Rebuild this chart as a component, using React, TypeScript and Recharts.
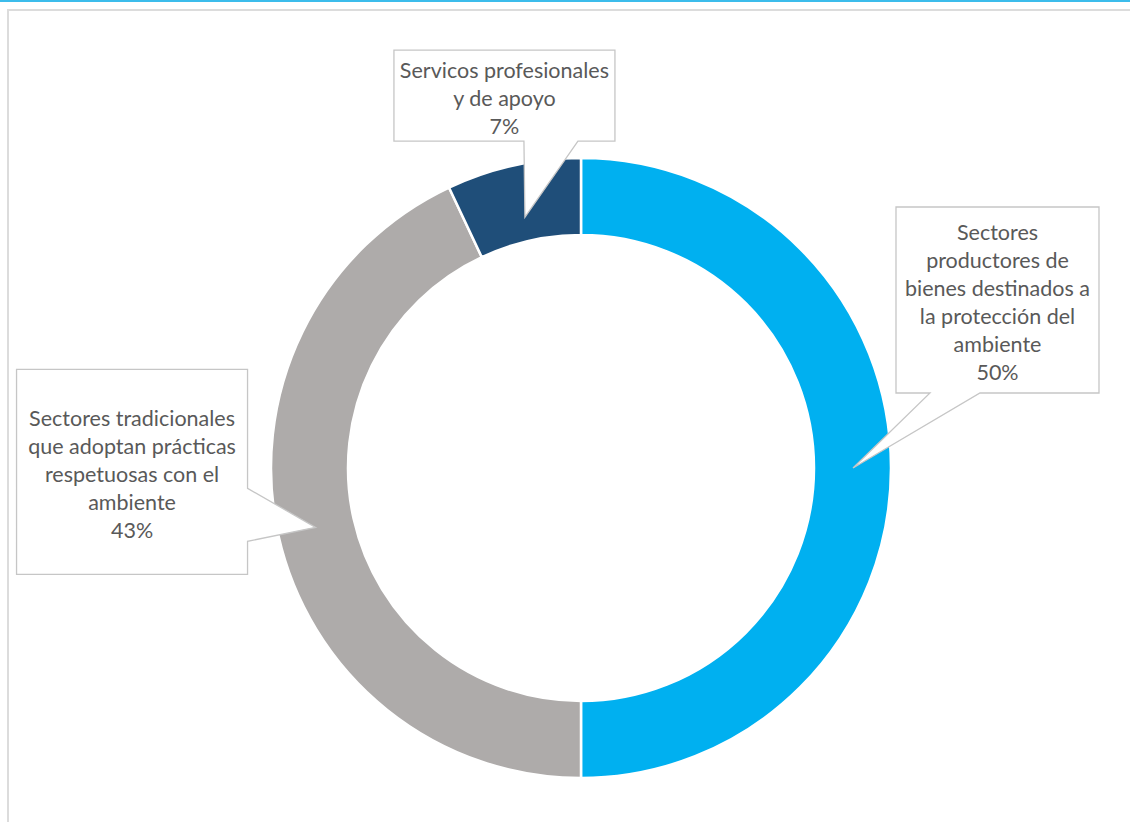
import React from "react";
import { PieChart, Pie, Cell } from "recharts";

const CATEGORIES = [
  "Sectores productores de bienes destinados a la protección del ambiente",
  "Sectores tradicionales que adoptan prácticas respetuosas con el ambiente",
  "Servicos profesionales y de apoyo",
];
const SHARES = [50, 43, 7];
const LABEL_LINES = [
  ["Sectores", "productores de", "bienes destinados a", "la protección del", "ambiente"],
  ["Sectores tradicionales", "que adoptan prácticas", "respetuosas con el", "ambiente"],
  ["Servicos profesionales", "y de apoyo"],
];
const COLORS = ["#00B0F0", "#AEABAA", "#1F4E79"];

// callout boxes, placed relative to the tail tip (which sits inside the ring)
const CALLOUTS = [
  { r: 272, dx: 43, dy: -261, w: 203, h: 186, side: "bottom", b1: 77, b2: 127 },
  { r: 272, dx: -299, dy: -158, w: 231, h: 205, side: "right", b1: -39, b2: 14 },
  { r: 257, dx: -131, dy: -167, w: 221, h: 91, side: "bottom", b1: -1, b2: 53 },
];

const data = CATEGORIES.map((name, i) => ({ name, value: SHARES[i] }));
const RAD = Math.PI / 180;

function Callout(props: any) {
  const { cx, cy, midAngle, percent, index } = props;
  const c = CALLOUTS[index];
  const tx = cx + c.r * Math.cos(midAngle * RAD);
  const ty = cy - c.r * Math.sin(midAngle * RAD);
  const x0 = tx + c.dx;
  const y0 = ty + c.dy;
  const x1 = x0 + c.w;
  const y1 = y0 + c.h;
  let d: string;
  if (c.side === "bottom") {
    d = `M${x0},${y0} H${x1} V${y1} H${tx + c.b2} L${tx},${ty} L${tx + c.b1},${y1} H${x0} Z`;
  } else {
    d = `M${x0},${y0} H${x1} V${ty + c.b1} L${tx},${ty} L${x1},${ty + c.b2} V${y1} H${x0} Z`;
  }
  const lines = [...LABEL_LINES[index], `${Math.round(percent * 100)}%`];
  const lh = 28;
  const midY = (y0 + y1) / 2 + 2;
  const midX = (x0 + x1) / 2;
  return (
    <g>
      <path d={d} fill="#fff" stroke="#C6C6C6" strokeWidth={1.3} />
      {lines.map((t, i) => (
        <text
          key={i}
          x={midX}
          y={midY + (i - (lines.length - 1) / 2) * lh}
          textAnchor="middle"
          dominantBaseline="central"
          fontFamily="Lato, 'Open Sans', sans-serif"
          fontSize={21.5}
          fill="#595959"
        >
          {t}
        </text>
      ))}
    </g>
  );
}

export default function App() {
  return (
    <div style={{ position: "relative", width: 1130, height: 822, overflow: "hidden", background: "#fff" }}>
      <style>{`body{margin:0}`}</style>
      <div style={{ position: "absolute", left: 0, top: 0, width: 1130, height: 2, background: "#3CBCEB" }} />
      <div
        style={{
          position: "absolute",
          left: 7,
          top: 9,
          width: 1200,
          height: 900,
          border: "2px solid #DCDCDC",
        }}
      />
      <div style={{ position: "absolute", left: 0, top: 0 }}>
        <PieChart width={1130} height={822} margin={{ top: 0, right: 0, bottom: 0, left: 0 }}>
          <Pie
            data={data}
            dataKey="value"
            nameKey="name"
            cx={581}
            cy={468}
            innerRadius={233}
            outerRadius={310}
            startAngle={90}
            endAngle={-270}
            stroke="#fff"
            strokeWidth={2.5}
            label={Callout}
            labelLine={false}
            isAnimationActive={false}
          >
            {data.map((d, i) => (
              <Cell key={d.name} fill={COLORS[i]} />
            ))}
          </Pie>
        </PieChart>
      </div>
    </div>
  );
}
